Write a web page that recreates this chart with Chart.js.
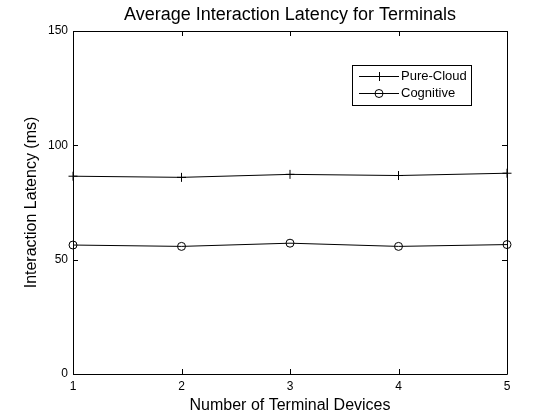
<!DOCTYPE html>
<html>
<head>
<meta charset="utf-8">
<script src="https://cdn.jsdelivr.net/npm/chart.js@4"></script>
<style>
  html, body { margin: 0; padding: 0; background: #fff; }
  #wrap { width: 560px; height: 420px; }
</style>
</head>
<body>
<div id="wrap"><canvas id="c" width="560" height="420"></canvas></div>
<script>
// ---- data ----
const devices = [1, 2, 3, 4, 5];
const pureCloud = [86.5, 86.0, 87.3, 86.8, 87.8];
const cognitive = [56.4, 55.8, 57.2, 55.8, 56.6];
const yTicks = [0, 50, 100, 150];
const xTicks = [1, 2, 3, 4, 5];
const titleText = 'Average Interaction Latency for Terminals';
const xTitle = 'Number of Terminal Devices';
const yTitle = 'Interaction Latency (ms)';
const seriesNames = ['Pure-Cloud', 'Cognitive'];

const FONT = '"Liberation Sans", Arial, Helvetica, sans-serif';

const toPts = (ys) => devices.map((x, i) => ({ x: x, y: ys[i] }));

// box, inward ticks, title and legend
const framePlugin = {
  id: 'frame',
  afterDraw(chart) {
    const { ctx, chartArea: a, scales } = chart;
    const xs = scales.x, ys = scales.y;
    ctx.save();
    ctx.strokeStyle = '#000';
    ctx.lineWidth = 1;
    ctx.beginPath();
    ctx.rect(Math.round(a.left) + 0.5, Math.round(a.top) + 0.5,
             Math.round(a.right - a.left), Math.round(a.bottom - a.top));
    ctx.stroke();
    const tl = 5;
    ctx.beginPath();
    xTicks.forEach(v => {
      const px = Math.round(xs.getPixelForValue(v)) + 0.5;
      ctx.moveTo(px, a.bottom); ctx.lineTo(px, a.bottom - tl);
      ctx.moveTo(px, a.top); ctx.lineTo(px, a.top + tl);
    });
    yTicks.forEach(v => {
      const py = Math.round(ys.getPixelForValue(v)) + 0.5;
      ctx.moveTo(a.left, py); ctx.lineTo(a.left + tl, py);
      ctx.moveTo(a.right, py); ctx.lineTo(a.right - tl, py);
    });
    ctx.stroke();

    // title
    ctx.fillStyle = '#000';
    ctx.font = '18px ' + FONT;
    ctx.textAlign = 'center';
    ctx.textBaseline = 'middle';
    ctx.fillText(titleText, (a.left + a.right) / 2, 15);

    // legend
    const lx = a.left + (a.right - a.left) * 0.644;
    const ly = a.top + (a.bottom - a.top) * 0.100;
    const lw = 119, lh = 40;
    ctx.fillStyle = '#fff';
    ctx.fillRect(Math.round(lx) + 0.5, Math.round(ly) + 0.5, lw, lh);
    ctx.strokeStyle = '#000';
    ctx.strokeRect(Math.round(lx) + 0.5, Math.round(ly) + 0.5, lw, lh);
    ctx.font = '13px ' + FONT;
    ctx.textAlign = 'left';
    ctx.fillStyle = '#000';
    const rows = [Math.round(ly) + 11.5, Math.round(ly) + 28.5];
    seriesNames.forEach((name, i) => {
      const y = rows[i];
      const x0 = Math.round(lx) + 7, x1 = x0 + 40, xm = (x0 + x1) / 2;
      ctx.beginPath();
      ctx.moveTo(x0, y); ctx.lineTo(x1, y);
      ctx.stroke();
      ctx.beginPath();
      if (i === 0) {
        ctx.moveTo(xm + 0.5, y - 4.5); ctx.lineTo(xm + 0.5, y + 4.5);
      } else {
        ctx.arc(xm, y, 4, 0, Math.PI * 2);
      }
      ctx.stroke();
      ctx.fillText(name, x1 + 2, y);
    });
    ctx.restore();
  }
};

const chart = new Chart(document.getElementById('c'), {
  type: 'line',
  data: {
    datasets: [
      {
        label: seriesNames[0],
        data: toPts(pureCloud),
        borderColor: '#000',
        borderWidth: 1,
        pointStyle: 'cross',
        pointRadius: 4.5,
        pointBorderColor: '#000',
        pointBorderWidth: 1,
        pointBackgroundColor: 'rgba(0,0,0,0)',
        tension: 0,
        clip: false
      },
      {
        label: seriesNames[1],
        data: toPts(cognitive),
        borderColor: '#000',
        borderWidth: 1,
        pointStyle: 'circle',
        pointRadius: 4,
        pointBorderColor: '#000',
        pointBorderWidth: 1,
        pointBackgroundColor: 'rgba(0,0,0,0)',
        tension: 0,
        clip: false
      }
    ]
  },
  options: {
    responsive: false,
    animation: false,
    devicePixelRatio: 1,
    layout: { padding: { top: 31, right: 53, left: 0, bottom: 0 } },
    plugins: {
      legend: { display: false },
      title: { display: false },
      tooltip: { enabled: false }
    },
    scales: {
      x: {
        type: 'linear',
        min: 1, max: 5,
        afterBuildTicks: (s) => { s.ticks = xTicks.map(v => ({ value: v })); },
        afterFit: (s) => { s.height = 46; },
        grid: { display: false, drawTicks: false },
        border: { display: false },
        ticks: { color: '#000', font: { family: FONT, size: 12 }, padding: 5, maxRotation: 0 },
        title: { display: true, text: xTitle, color: '#000', font: { family: FONT, size: 16 }, padding: { top: 0, bottom: 5 } }
      },
      y: {
        type: 'linear',
        min: 0, max: 150,
        afterBuildTicks: (s) => { s.ticks = yTicks.map(v => ({ value: v })); },
        afterFit: (s) => { s.width = 73; },
        grid: { display: false, drawTicks: false },
        border: { display: false },
        ticks: { color: '#000', font: { family: FONT, size: 12 }, padding: 5 },
        title: { display: true, text: yTitle, color: '#000', font: { family: FONT, size: 16 }, padding: { top: 22, bottom: 0 } }
      }
    }
  },
  plugins: [framePlugin]
});
</script>
</body>
</html>
